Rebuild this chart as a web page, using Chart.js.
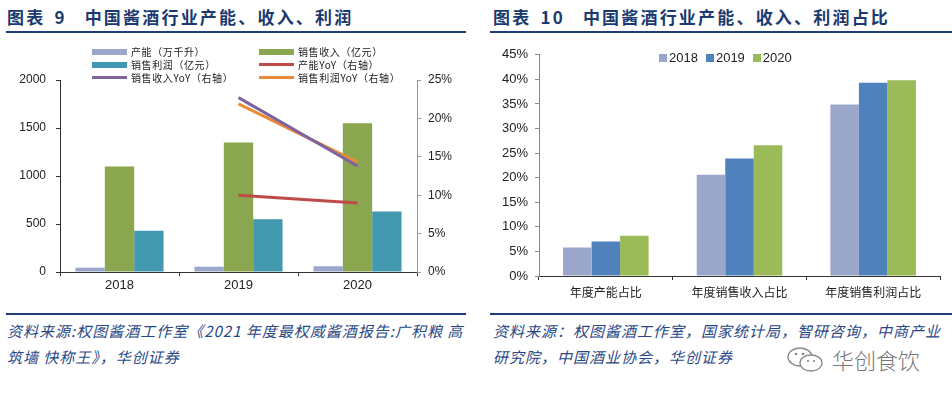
<!DOCTYPE html>
<html>
<head>
<meta charset="utf-8">
<script src="https://cdn.jsdelivr.net/npm/chart.js@4/dist/chart.umd.min.js"></script>
<style>
  body { margin: 0; background: #fff; width: 952px; height: 399px; position: relative; overflow: hidden; font-family: "Noto Sans CJK SC", sans-serif; }
  .title { position: absolute; top: 4px; font-size: 17px; font-weight: bold; color: #1B3A70; white-space: nowrap; letter-spacing: 2.2px; }
  .rule { position: absolute; height: 2px; background: #1F3D7A; }
  .box { position: absolute; }
  .src { position: absolute; font-size: 15px; font-style: italic; color: #2A4785; line-height: 26px; white-space: nowrap; letter-spacing: 1px; }
  .lgd { position: absolute; font-size: 10px; color: #222; letter-spacing: 0.6px; }
  .lgd .it { position: absolute; display: flex; align-items: center; white-space: nowrap; }
  .lgd .sw { width: 35px; margin-right: 4px; }
  .lgd2 { position: absolute; left: 659px; top: 50px; display: flex; font: 13px "Liberation Sans", Arial, sans-serif; color: #222; }
  .lgd2 .it { display: flex; align-items: center; margin-right: 8px; }
  .lgd2 .sq { width: 8px; height: 8px; margin-right: 2px; }
  .wm { position: absolute; left: 832px; top: 343px; font-size: 22px; color: #777; font-weight: 300; }
</style>
</head>
<body>
<div class="title" style="left:7px">图表<span style="display:inline-block;width:9px"></span>9<span style="display:inline-block;width:18px"></span>中国酱酒行业产能、收入、利润</div>
<div class="rule" style="left:6px;top:31px;width:460px"></div>
<div class="title" style="left:493px">图表<span style="display:inline-block;width:9px"></span>10<span style="display:inline-block;width:18px"></span>中国酱酒行业产能、收入、利润占比</div>
<div class="rule" style="left:490px;top:31px;width:462px"></div>

<div class="box" style="left:0;top:40px;width:476px;height:260px"><canvas id="chart1"></canvas></div>
<div class="lgd" id="legend1"></div>
<div class="box" style="left:476px;top:40px;width:476px;height:260px"><canvas id="chart2"></canvas></div>
<div class="lgd2" id="legend2"></div>

<div class="rule" style="left:6px;top:313px;width:460px"></div>
<div class="rule" style="left:490px;top:313px;width:462px"></div>
<div class="src" style="left:7px;top:318px">资料来源:权图酱酒工作室《2021 年度最权威酱酒报告:广积粮 高<br>筑墙 快称王》，华创证券</div>
<div class="src" style="left:493px;top:318px">资料来源：权图酱酒工作室，国家统计局，智研咨询，中商产业<br>研究院，中国酒业协会，华创证券</div>
<svg style="position:absolute;left:786px;top:346px" width="40" height="28" viewBox="0 0 40 28">
  <ellipse cx="14" cy="11" rx="12" ry="9" fill="none" stroke="#888" stroke-width="1.3"/>
  <ellipse cx="25" cy="17" rx="11" ry="8" fill="#fff" stroke="#888" stroke-width="1.3"/>
  <circle cx="10" cy="8" r="1.3" fill="#888"/><circle cx="17" cy="8" r="1.3" fill="#888"/>
  <circle cx="22" cy="15" r="1.1" fill="#888"/><circle cx="28" cy="15" r="1.1" fill="#888"/>
</svg>
<div class="wm">华创食饮</div>

<script>
// 图表9 数据
var years = ['2018', '2019', '2020'];
var capacity = [45, 55, 60];          // 产能（万千升）
var revenue = [1100, 1350, 1550];     // 销售收入（亿元）
var profit = [430, 550, 630];         // 销售利润（亿元）
var capacityYoY = [null, 10.0, 9.0];  // %
var revenueYoY = [null, 22.7, 13.8];
var profitYoY = [null, 21.9, 14.3];

// 图表10 数据
var shareCats = ['年度产能占比', '年度销售收入占比', '年度销售利润占比'];
var share2018 = [5.8, 20.6, 34.9];
var share2019 = [7.0, 23.9, 39.3];
var share2020 = [8.2, 26.6, 39.8];

var tickFont = { family: '"Liberation Sans", Arial, sans-serif', size: 12 };

var ds1 = [
    { type: 'bar', label: '产能（万千升）', data: capacity, backgroundColor: '#9BA6CB', yAxisID: 'y', order: 2 },
    { type: 'bar', label: '销售收入（亿元）', data: revenue, backgroundColor: '#8AA64F', yAxisID: 'y', order: 2 },
    { type: 'bar', label: '销售利润（亿元）', data: profit, backgroundColor: '#4198AF', yAxisID: 'y', order: 2 },
    { type: 'line', label: '产能YoY（右轴）', data: capacityYoY, borderColor: '#BE4B48', yAxisID: 'y1', order: 1 },
    { type: 'line', label: '销售收入YoY（右轴）', data: revenueYoY, borderColor: '#7E63A0', yAxisID: 'y1', order: 1 },
    { type: 'line', label: '销售利润YoY（右轴）', data: profitYoY, borderColor: '#E98B39', yAxisID: 'y1', order: 1 }
];
ds1.forEach(function (d) {
    if (d.type == 'line') {
        d.borderWidth = 3;
        d.pointRadius = 0;
        d.fill = false;
        d.spanGaps = false;
    } else {
        d.categoryPercentage = 0.74;
        d.barPercentage = 1;
    }
});

new Chart(document.getElementById('chart1'), {
    type: 'bar',
    data: { labels: years, datasets: ds1 },
    options: {
        responsive: true,
        maintainAspectRatio: false,
        animation: false,
        layout: { padding: { top: 40, left: 0, right: 0, bottom: 0 } },
        plugins: { legend: { display: false }, tooltip: { enabled: false } },
        scales: {
            x: {
                grid: { display: true, drawOnChartArea: false, tickLength: 4, color: '#333' },
                border: { color: '#333' },
                ticks: { font: { family: tickFont.family, size: 13 }, color: '#222', padding: 2 },
                afterFit: function (s) { s.height = 28; }
            },
            y: {
                min: 0, max: 2000,
                ticks: { stepSize: 500, font: tickFont, color: '#222', padding: 10, callback: function (v) { return String(v); } },
                grid: { display: true, drawOnChartArea: false, tickLength: 4, color: '#333' },
                border: { color: '#333' },
                afterFit: function (s) { s.width = 60; }
            },
            y1: {
                position: 'right',
                min: 0, max: 25,
                ticks: { stepSize: 5, font: tickFont, color: '#222', padding: 7, callback: function (v) { return v + '%'; } },
                grid: { display: true, drawOnChartArea: false, tickLength: 4, color: '#999' },
                border: { color: '#999' },
                afterFit: function (s) { s.width = 59; }
            }
        }
    }
});

// 图表9 图例（两列）
var legend1 = document.getElementById('legend1');
ds1.forEach(function (d, i) {
    var col = i % 2, row = Math.floor(i / 2);
    var it = document.createElement('div');
    it.className = 'it';
    it.style.left = (col == 0 ? 92 : 259) + 'px';
    it.style.top = (44 + row * 13) + 'px';
    var sw = document.createElement('div');
    sw.className = 'sw';
    if (d.type == 'line') {
        sw.style.height = '3px';
        sw.style.background = d.borderColor;
    } else {
        sw.style.height = '6px';
        sw.style.background = d.backgroundColor;
    }
    it.appendChild(sw);
    it.appendChild(document.createTextNode(d.label));
    legend1.appendChild(it);
});

var ds2 = [
    { label: '2018', data: share2018, backgroundColor: '#9BA6CB' },
    { label: '2019', data: share2019, backgroundColor: '#4F81BD' },
    { label: '2020', data: share2020, backgroundColor: '#9BBB59' }
];
ds2.forEach(function (d) {
    d.categoryPercentage = 0.64;
    d.barPercentage = 1;
});

new Chart(document.getElementById('chart2'), {
    type: 'bar',
    data: { labels: shareCats, datasets: ds2 },
    options: {
        responsive: true,
        maintainAspectRatio: false,
        animation: false,
        layout: { padding: { top: 13, left: 0, right: 12, bottom: 0 } },
        plugins: { legend: { display: false }, tooltip: { enabled: false } },
        scales: {
            x: {
                grid: { display: true, drawOnChartArea: false, tickLength: 4, color: '#333' },
                border: { color: '#333' },
                ticks: { font: { family: '"Noto Sans CJK SC", sans-serif', size: 12 }, color: '#222', padding: 5 },
                afterFit: function (s) { s.height = 24; }
            },
            y: {
                min: 0, max: 45,
                ticks: { stepSize: 5, font: { family: tickFont.family, size: 13 }, color: '#222', padding: 7, callback: function (v) { return v + '%'; } },
                grid: { display: true, drawOnChartArea: false, tickLength: 4, color: '#888' },
                border: { color: '#888' },
                afterFit: function (s) { s.width = 63; }
            }
        }
    }
});

var legend2 = document.getElementById('legend2');
ds2.forEach(function (d) {
    var it = document.createElement('div');
    it.className = 'it';
    var sq = document.createElement('div');
    sq.className = 'sq';
    sq.style.background = d.backgroundColor;
    it.appendChild(sq);
    it.appendChild(document.createTextNode(d.label));
    legend2.appendChild(it);
});
</script>
</body>
</html>
